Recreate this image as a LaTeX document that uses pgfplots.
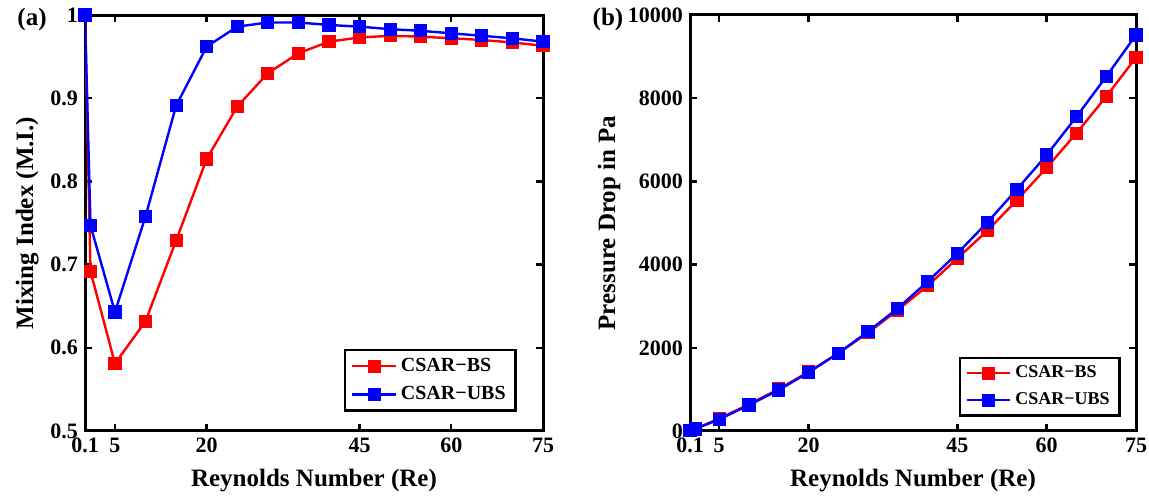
\documentclass[border=0pt]{standalone}
\usepackage{fontspec}
\setmainfont{Liberation Serif}
\usepackage{pgfplots}
\pgfplotsset{compat=1.18}
\begin{document}
\begin{tikzpicture}
\pgfplotsset{
 myax/.style={
  scale only axis, height=208pt,
  axis line style={line width=1.5pt},
  tick style={line width=1.2pt, black},
  major tick length=3.5pt,
  tick align=inside,
  xmin=0.1, xmax=75,
  xtick={0.1,5,20,45,60,75},
  xticklabels={0.1,5,20,45,60,75},
  tick label style={font=\fontsize{11}{13}\selectfont\bfseries},
  label style={font=\fontsize{12.5}{15}\selectfont\bfseries},
  /pgf/number format/assume math mode=true,
  xlabel={Reynolds Number (Re)},
  xlabel style={at={(axis description cs:0.5,-0.1346)}, anchor=base},
  legend cell align=left,
  legend style={draw=black, line width=1.2pt, row sep=2pt, inner xsep=3pt, inner ysep=2pt},
  legend image code/.code={\draw[mark repeat=2,mark phase=2,##1] plot coordinates {(0cm,0cm) (0.38cm,0cm) (0.76cm,0cm)};},
  every axis plot/.append style={line width=1.2pt, mark=square*, mark size=2.7pt},
 }
}
\begin{axis}[myax, at={(42.5pt,32.5pt)}, width=229pt,
  ymin=0.5, ymax=1,
  ytick={0.5,0.6,0.7,0.8,0.9,1},
  yticklabels={0.5,0.6,0.7,0.8,0.9,1},
  ylabel={Mixing Index (M.I.)},
  ylabel style={at={(axis description cs:-0.1135,0.5)}, anchor=base},
  legend style={at={(axis description cs:0.943,0.046)}, anchor=south east, font=\fontsize{10}{12}\selectfont\bfseries},
]
\addplot[red, mark options={solid}] coordinates {
(0.1,1.0) (1,0.692) (5,0.581) (10,0.632) (15,0.729) (20,0.827) (25,0.890) (30,0.930) (35,0.954) (40,0.968) (45,0.973) (50,0.975) (55,0.974) (60,0.972) (65,0.970) (70,0.967) (75,0.963)};
\addlegendentry{CSAR−BS}
\addplot[blue, mark options={solid}] coordinates {
(0.1,1.0) (1,0.747) (5,0.643) (10,0.758) (15,0.891) (20,0.962) (25,0.986) (30,0.991) (35,0.991) (40,0.988) (45,0.986) (50,0.983) (55,0.981) (60,0.978) (65,0.975) (70,0.972) (75,0.968)};
\addlegendentry{CSAR−UBS}
\end{axis}
\begin{axis}[myax, at={(345pt,32.5pt)}, width=223pt,
  ymin=0, ymax=10000,
  ytick={0,2000,4000,6000,8000,10000},
  scaled y ticks=false,
  /pgf/number format/set thousands separator={},
  ylabel={Pressure Drop in Pa},
  ylabel style={at={(axis description cs:-0.168,0.5)}, anchor=base},
  legend style={at={(axis description cs:0.966,0.034)}, anchor=south east, font=\fontsize{9}{11}\selectfont\bfseries},
]
\addplot[red, mark options={solid}] coordinates {
(0.1,10) (1,50) (5,300) (10,640) (15,1010) (20,1420) (25,1870) (30,2360) (35,2910) (40,3490) (45,4150) (50,4810) (55,5550) (60,6330) (65,7160) (70,8040) (75,8980)};
\addlegendentry{CSAR−BS}
\addplot[blue, mark options={solid}] coordinates {
(0.1,10) (1,50) (5,280) (10,625) (15,985) (20,1405) (25,1870) (30,2390) (35,2950) (40,3590) (45,4270) (50,5010) (55,5810) (60,6635) (65,7555) (70,8520) (75,9520)};
\addlegendentry{CSAR−UBS}
\end{axis}
\node[font=\fontsize{12.5}{15}\selectfont\bfseries] at (16pt,238pt) {(a)};
\node[font=\fontsize{12.5}{15}\selectfont\bfseries] at (304pt,238pt) {(b)};
\pgfresetboundingbox
\useasboundingbox (0,0) rectangle (574.5pt,248pt);
\end{tikzpicture}
\end{document}
